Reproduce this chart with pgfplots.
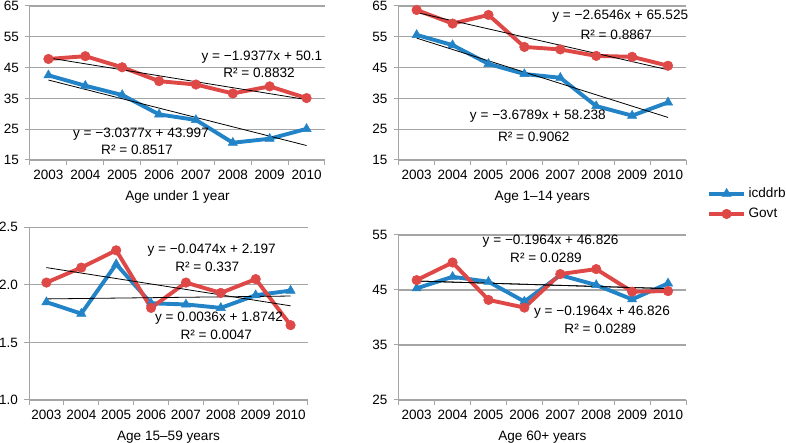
\documentclass[border=0pt]{standalone}
\usepackage{pgfplots}
\pgfplotsset{compat=1.18}
\usepackage{pgfplotstable}
\usepackage{fontspec}
\setmainfont{Liberation Sans}
\definecolor{cblue}{RGB}{34,131,198}
\definecolor{cred}{RGB}{222,72,70}
\definecolor{gridgray}{RGB}{165,165,165}
\newcommand{\fs}{\fontsize{13.6}{16}\selectfont}
\newcommand{\ft}{\fontsize{13.5}{16}\selectfont}

\pgfplotstableread{
x icd gov
1 42.5 47.8
2 39.1 48.7
3 36.1 45.1
4 29.8 40.6
5 28.0 39.5
6 20.6 36.6
7 21.9 38.9
8 25.1 35.1
}\tabA
\pgfplotstableread{
x icd gov
1 55.6 63.7
2 52.3 59.3
3 46.2 62.1
4 42.9 51.7
5 41.7 50.9
6 32.5 48.8
7 29.4 48.5
8 33.7 45.6
}\tabB
\pgfplotstableread{
x icd gov
1 1.85 2.02
2 1.75 2.15
3 2.18 2.30
4 1.84 1.80
5 1.83 2.02
6 1.80 1.93
7 1.91 2.05
8 1.95 1.65
}\tabC
\pgfplotstableread{
x icd gov
1 45.3 46.8
2 47.4 50.0
3 46.5 43.2
4 42.9 41.8
5 47.7 47.9
6 45.9 48.8
7 43.3 44.7
8 46.2 44.8
}\tabD

\tikzset{eq/.style={font=\fs, inner sep=0pt, anchor=center}}
\pgfplotsset{
  panel/.style={
    scale only axis, anchor=south west,
    xmin=0.5, xmax=8.5,
    xtick={1,...,8}, xticklabels={2003,2004,2005,2006,2007,2008,2009,2010},
    minor xtick={0.5,1.5,...,8.5},
    axis lines=left, axis line style={-, draw=gridgray, line width=1pt},
    ymajorgrids, grid style={gridgray, line width=1.1pt},
    major x tick style={draw=none},
    minor x tick style={draw=gridgray, line width=1pt},
    y tick style={draw=gridgray, line width=1pt},
    tick align=outside, major tick length=5pt, minor tick length=5pt,
    /pgf/number format/assume math mode=true,
    ticklabel style={font=\ft, inner sep=0pt},
    xticklabel style={anchor=center, yshift=-9.5pt},
    yticklabel style={anchor=east, xshift=-6pt},
    every axis x label/.style={at={(axis description cs:0.5,0)}, anchor=center, yshift=-37pt, font=\fs},
    clip=false,
    legend image code/.code={\draw[##1, mark repeat=2, mark phase=2] plot coordinates {(0pt,0pt) (17.5pt,0pt) (35pt,0pt)};},
  },
  icdstyle/.style={cblue, line width=3.9pt, mark=triangle*, mark size=5.3pt, mark options={solid, line width=0.5pt}},
  govstyle/.style={cred, line width=3.9pt, mark=*, mark size=4.8pt, mark options={solid, line width=0.5pt}},
  trend/.style={black, line width=0.8pt, no marks, forget plot},
}

\begin{document}
\begin{tikzpicture}
\useasboundingbox (0,0) rectangle (786pt,443pt);

% Panel 1
\begin{axis}[panel, at={(30pt,283pt)}, width=295pt, height=154pt,
  ymin=15, ymax=65, ytick={15,25,...,65}, xlabel={Age under 1 year}]
\addplot[icdstyle] table[x=x, y=icd] {\tabA};
\addplot[govstyle] table[x=x, y=gov] {\tabA};
\addplot[trend] coordinates {(1,48.16) (8,34.60)};
\addplot[trend] coordinates {(1,40.96) (8,19.70)};
\node[eq] at (axis cs:6.79,48.44) {y = −1.9377x + 50.1};
\node[eq] at (axis cs:6.71,43.25) {R² = 0.8832};
\node[eq] at (axis cs:3.51,23.44) {y = −3.0377x + 43.997};
\node[eq] at (axis cs:3.40,18.25) {R² = 0.8517};
\end{axis}

% Panel 2
\begin{axis}[panel, at={(398.7pt,283pt)}, width=287.3pt, height=154pt,
  ymin=15, ymax=65, ytick={15,25,...,65}, xlabel={Age 1–14 years},
  legend style={at={(1.073,-0.165)}, anchor=north west, draw=none, fill=none,
    font=\fs, row sep=4pt, inner sep=0pt, nodes={inner sep=2.5pt}},
  legend cell align=left]
\addplot[icdstyle] table[x=x, y=icd] {\tabB};
\addlegendentry{icddrb}
\addplot[govstyle] table[x=x, y=gov] {\tabB};
\addlegendentry{Govt}
\addplot[trend] coordinates {(1,62.87) (8,44.29)};
\addplot[trend] coordinates {(1,54.56) (8,28.81)};
\node[eq] at (axis cs:6.67,61.75) {y = −2.6546x + 65.525};
\node[eq] at (axis cs:6.56,55.58) {R² = 0.8867};
\node[eq] at (axis cs:4.375,29.29) {y = −3.6789x + 58.238};
\node[eq] at (axis cs:4.26,22.47) {R² = 0.9062};
\end{axis}

% Panel 3
\begin{axis}[panel, at={(29pt,43pt)}, width=279pt, height=172.7pt,
  ymin=1.0, ymax=2.5, ytick={1.0,1.5,2.0,2.5}, xlabel={Age 15–59 years},
  yticklabel style={/pgf/number format/.cd, fixed, fixed zerofill, precision=1}]
\addplot[icdstyle] table[x=x, y=icd] {\tabC};
\addplot[govstyle] table[x=x, y=gov] {\tabC};
\addplot[trend] coordinates {(1,2.150) (8,1.818)};
\addplot[trend] coordinates {(1,1.878) (8,1.903)};
\node[eq] at (axis cs:5.74,2.303) {y = −0.0474x + 2.197};
\node[eq] at (axis cs:5.61,2.158) {R² = 0.337};
\node[eq] at (axis cs:5.95,1.709) {y = 0.0036x + 1.8742};
\node[eq] at (axis cs:5.87,1.570) {R² = 0.0047};
\end{axis}

% Panel 4
\begin{axis}[panel, at={(398.7pt,43pt)}, width=287.3pt, height=165pt,
  ymin=25, ymax=55, ytick={25,35,45,55}, xlabel={Age 60+ years}]
\addplot[icdstyle] table[x=x, y=icd] {\tabD};
\addplot[govstyle] table[x=x, y=gov] {\tabD};
\addplot[trend] coordinates {(1,46.63) (8,45.25)};
\addplot[trend] coordinates {(1,46.63) (8,45.25)};
\node[eq] at (axis cs:4.73,53.96) {y = −0.1964x + 46.826};
\node[eq] at (axis cs:4.60,50.94) {R² = 0.0289};
\node[eq] at (axis cs:6.16,41.0) {y = −0.1964x + 46.826};
\node[eq] at (axis cs:6.11,38.03) {R² = 0.0289};
\end{axis}
\end{tikzpicture}
\end{document}
